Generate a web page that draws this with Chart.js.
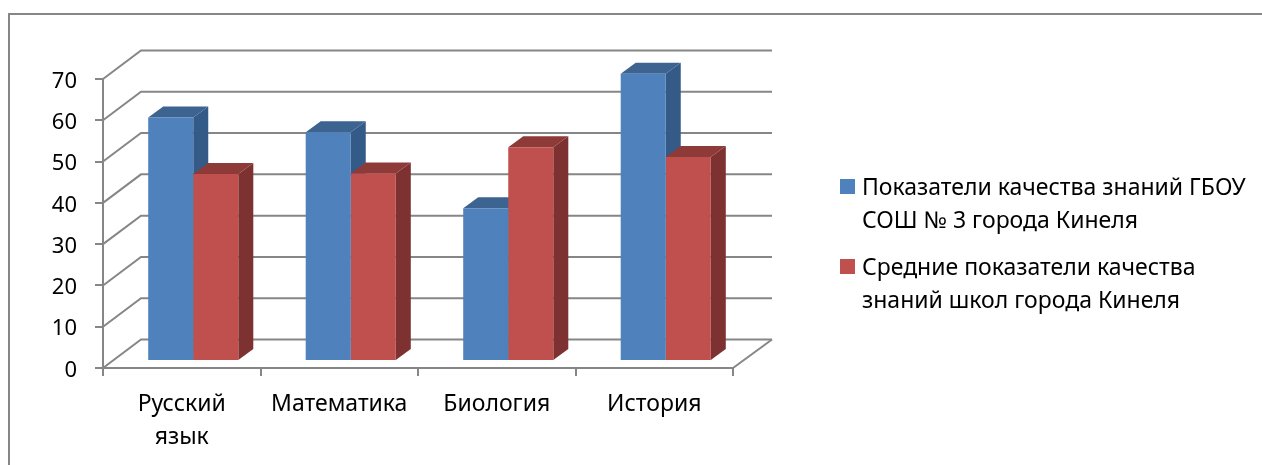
<!DOCTYPE html>
<html>
<head>
<meta charset="utf-8">
<script src="https://cdn.jsdelivr.net/npm/chart.js@4"></script>
<style>
html, body { margin: 0; padding: 0; background: #fff; }
#wrap { position: relative; width: 1262px; height: 465px; overflow: hidden; }
#legend { position: absolute; left: 840px; top: 170px; width: 412px; font: 23px "Noto Sans", sans-serif; line-height: 33px; color: #000; }
#legend div { position: relative; padding-left: 22px; margin-bottom: 14px; }
#legend i { position: absolute; left: 0; top: 9px; width: 15px; height: 15px; }
</style>
</head>
<body>
<div id="wrap">
<canvas id="chart" width="1262" height="465"></canvas>
<div id="legend"></div>
</div>
<script>
var categories = [['Русский', 'язык'], 'Математика', 'Биология', 'История'];
var schoolValues = [59, 55.4, 37, 69.6];
var cityValues = [45.3, 45.4, 51.8, 49.4];
var schoolName = 'Показатели качества знаний ГБОУ СОШ № 3 города Кинеля';
var cityName = 'Средние показатели качества знаний школ города Кинеля';

var gray = '#868686';
var fontName = '"Noto Sans", sans-serif';

// fake 3d: walls behind the plot, bars pushed back and given side + top faces
var wallLeftX = 38, wallRightX = 39, wallY = 28.5;
var barX = 11.5, barY = 7;
var depthX = 15, depthY = 11;

var walls = {
    id: 'walls',
    beforeDraw: function(chart) {
        var c = chart.ctx;
        c.save();
        c.strokeStyle = gray;
        c.lineWidth = 2;
        // outer frame, open at the right and bottom
        c.beginPath();
        c.moveTo(9, 465);
        c.lineTo(9, 14);
        c.lineTo(1262, 14);
        c.stroke();
        var y = chart.scales.y, x = chart.scales.x;
        y.ticks.forEach(function(t) {
            var py = y.getPixelForValue(t.value);
            c.beginPath();
            c.moveTo(x.left, py);
            c.lineTo(x.left + wallLeftX, py - wallY);
            c.lineTo(x.right + wallRightX, py - wallY);
            c.stroke();
        });
        var py0 = y.getPixelForValue(0);
        c.beginPath();
        c.moveTo(x.right, py0);
        c.lineTo(x.right + wallRightX, py0 - wallY);
        c.stroke();
        c.restore();
    },
    // side and top faces go down first, blue before red, so red covers blue's side
    beforeDatasetsDraw: function(chart) {
        var c = chart.ctx;
        c.save();
        c.translate(barX, -barY);
        chart.data.datasets.forEach(function(ds, i) {
            chart.getDatasetMeta(i).data.forEach(function(bar) {
                var l = bar.x - bar.width / 2, r = bar.x + bar.width / 2;
                c.fillStyle = ds.sideColor;
                c.beginPath();
                c.moveTo(r, bar.y);
                c.lineTo(r + depthX, bar.y - depthY);
                c.lineTo(r + depthX, bar.base - depthY);
                c.lineTo(r, bar.base);
                c.closePath();
                c.fill();
                c.fillStyle = ds.topColor;
                c.beginPath();
                c.moveTo(l, bar.y);
                c.lineTo(l + depthX, bar.y - depthY);
                c.lineTo(r + depthX, bar.y - depthY);
                c.lineTo(r, bar.y);
                c.closePath();
                c.fill();
            });
        });
        c.restore();
    },
    beforeDatasetDraw: function(chart) {
        chart.ctx.save();
        chart.ctx.translate(barX, -barY);
    },
    afterDatasetDraw: function(chart) {
        chart.ctx.restore();
    }
};

var chart = new Chart(document.getElementById('chart').getContext('2d'), {
    type: 'bar',
    data: {
        labels: categories,
        datasets: [{
            label: schoolName,
            data: schoolValues,
            backgroundColor: '#4F81BD',
            sideColor: '#345A87',
            topColor: '#3D6391',
            clip: false
        }, {
            label: cityName,
            data: cityValues,
            backgroundColor: '#C0504D',
            sideColor: '#7D3231',
            topColor: '#8E3A38',
            clip: false
        }]
    },
    plugins: [walls],
    options: {
        responsive: false,
        animation: false,
        layout: { padding: { left: 0, top: 79, right: 529, bottom: 0 } },
        plugins: { legend: { display: false }, title: { display: false }, tooltip: { enabled: false } },
        datasets: { bar: { categoryPercentage: 0.572, barPercentage: 1 } },
        scales: {
            x: {
                afterFit: function(s) { s.height = 97; },
                grid: { drawOnChartArea: false, color: gray, lineWidth: 2, tickLength: 8 },
                border: { color: gray, width: 2 },
                ticks: { color: '#000', padding: 12, maxRotation: 0, font: { family: fontName, size: 23, lineHeight: 1.435 } }
            },
            y: {
                min: 0,
                max: 70,
                afterFit: function(s) { s.width = 103; },
                grid: { drawOnChartArea: false, color: gray, lineWidth: 2, tickLength: 8 },
                border: { color: gray, width: 2 },
                ticks: {
                    stepSize: 10,
                    color: '#000',
                    padding: 18,
                    // empty first line nudges the digits down onto the tick
                    callback: function(v) { return ['', String(v)]; },
                    font: { family: fontName, size: 22, lineHeight: '5px' }
                }
            }
        }
    }
});

var legend = document.getElementById('legend');
chart.data.datasets.forEach(function(ds) {
    var row = document.createElement('div');
    var box = document.createElement('i');
    box.style.background = ds.backgroundColor;
    row.appendChild(box);
    row.appendChild(document.createTextNode(ds.label));
    legend.appendChild(row);
});
</script>
</body>
</html>
